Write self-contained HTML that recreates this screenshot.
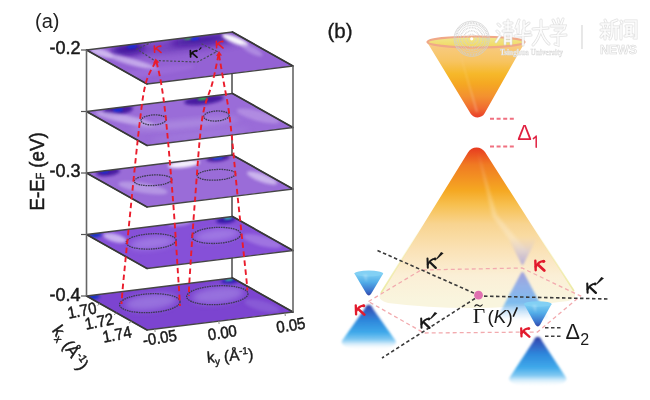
<!DOCTYPE html><html><head><meta charset="utf-8"><style>html,body{margin:0;padding:0;background:#fff;}svg{display:block;filter:blur(0.35px)}</style></head><body>
<svg width="650" height="400" viewBox="0 0 650 400">
<defs><linearGradient id="pg" gradientUnits="objectBoundingBox" x1="0.3" y1="0" x2="0.5" y2="1">
<stop offset="0" stop-color="#8a58d0"/><stop offset="0.25" stop-color="#c9b0ee"/><stop offset="0.45" stop-color="#9a70da"/><stop offset="1" stop-color="#9870dc"/></linearGradient><filter id="bl3" x="-50%" y="-50%" width="200%" height="200%"><feGaussianBlur stdDeviation="3"/></filter><filter id="bl2" x="-50%" y="-50%" width="200%" height="200%"><feGaussianBlur stdDeviation="1.8"/></filter><filter id="bl1" x="-50%" y="-50%" width="200%" height="200%"><feGaussianBlur stdDeviation="1"/></filter><clipPath id="cp0"><polygon points="86.5,50 232.5,32 293.0,66 147.0,84"/></clipPath><clipPath id="cp1"><polygon points="86.5,111.5 232.5,93.5 293.0,127.5 147.0,145.5"/></clipPath><clipPath id="cp2"><polygon points="86.5,173 232.5,155 293.0,189 147.0,207"/></clipPath><clipPath id="cp3"><polygon points="86.5,234.5 232.5,216.5 293.0,250.5 147.0,268.5"/></clipPath><clipPath id="cp4"><polygon points="86.5,296 232.5,278 293.0,312 147.0,330"/></clipPath><linearGradient id="ucone" x1="0" y1="42" x2="0" y2="118" gradientUnits="userSpaceOnUse">
<stop offset="0" stop-color="#f8cc88"/><stop offset="0.25" stop-color="#f7c462"/><stop offset="0.42" stop-color="#f6b82a"/><stop offset="0.55" stop-color="#f5a822"/><stop offset="0.72" stop-color="#f39030"/><stop offset="0.88" stop-color="#f06a30"/><stop offset="1" stop-color="#e83a28"/></linearGradient><linearGradient id="lcone" x1="0" y1="148" x2="0" y2="300" gradientUnits="userSpaceOnUse">
<stop offset="0" stop-color="#e83c20"/><stop offset="0.11" stop-color="#f07a22"/><stop offset="0.28" stop-color="#f5a822"/><stop offset="0.375" stop-color="#f7c050"/><stop offset="0.5" stop-color="#f8d490"/><stop offset="0.67" stop-color="#fae2b6"/><stop offset="0.84" stop-color="#fbefd6"/><stop offset="1" stop-color="#f9f5de"/></linearGradient>
<linearGradient id="lconeS" x1="0" y1="148" x2="0" y2="300" gradientUnits="userSpaceOnUse"><stop offset="0" stop-color="#f0e890" stop-opacity="0"/><stop offset="0.5" stop-color="#f0e890" stop-opacity="0"/><stop offset="1" stop-color="#e8e898" stop-opacity="0.95"/></linearGradient><linearGradient id="rimg" x1="0" y1="0" x2="0" y2="1"><stop offset="0" stop-color="#f0e890"/><stop offset="1" stop-color="#f2d860"/></linearGradient><linearGradient id="mgr" x1="0" y1="0" x2="0" y2="1"><stop offset="0" stop-color="#e8d0c0" stop-opacity="0"/><stop offset="0.5" stop-color="#d0c4d4" stop-opacity="0.6"/><stop offset="1" stop-color="#b0a8d8" stop-opacity="0.95"/></linearGradient><linearGradient id="mbl" x1="0" y1="0" x2="0" y2="1"><stop offset="0" stop-color="#9898dc"/><stop offset="0.3" stop-color="#88aaea"/><stop offset="0.65" stop-color="#70b6f0"/><stop offset="1" stop-color="#a8d4f4" stop-opacity="0"/></linearGradient><linearGradient id="bup" x1="0" y1="0" x2="0" y2="1"><stop offset="0" stop-color="#80d0f4"/><stop offset="0.4" stop-color="#52ade8"/><stop offset="0.8" stop-color="#3a72cc"/><stop offset="1" stop-color="#3448a8"/></linearGradient><linearGradient id="bdn" x1="0" y1="0" x2="0" y2="1"><stop offset="0" stop-color="#2c3c9c"/><stop offset="0.1" stop-color="#3456bc"/><stop offset="0.35" stop-color="#2e88dc"/><stop offset="0.62" stop-color="#40aaea"/><stop offset="0.78" stop-color="#80c8f2" stop-opacity="0.95"/><stop offset="1" stop-color="#ffffff" stop-opacity="0"/></linearGradient><filter id="bl05" x="-20%" y="-20%" width="140%" height="140%"><feGaussianBlur stdDeviation="0.8"/></filter></defs>
<rect width="650" height="400" fill="#fff"/>
<line x1="232" y1="32" x2="232" y2="278" stroke="#555" stroke-width="1.6"/>
<g clip-path="url(#cp0)"><polygon points="86.5,50 232.5,32 293.0,66 147.0,84" fill="#9462d4"/>
<ellipse cx="190" cy="44" rx="70" ry="7" transform="rotate(-7 190 44)" fill="#6a38b8" opacity="0.7" filter="url(#bl3)"/>
<ellipse cx="102" cy="53" rx="12" ry="3.5" transform="rotate(15 102 53)" fill="#d4c0f2" opacity="0.9" filter="url(#bl2)"/>
<ellipse cx="128" cy="49" rx="17" ry="5.5" transform="rotate(-7 128 49)" fill="#3a0c98" opacity="0.9" filter="url(#bl3)"/>
<ellipse cx="132" cy="46.5" rx="5" ry="1.8" transform="rotate(-7 132 46.5)" fill="#1030e0" opacity="0.9" filter="url(#bl1)"/>
<ellipse cx="132" cy="62" rx="28" ry="3.2" transform="rotate(16 132 62)" fill="#d4c0f2" opacity="0.75" filter="url(#bl2)"/>
<ellipse cx="200" cy="40" rx="30" ry="4" transform="rotate(-7 200 40)" fill="#3a0c98" opacity="0.85" filter="url(#bl3)"/>
<ellipse cx="188" cy="38" rx="4" ry="1.5" transform="rotate(-7 188 38)" fill="#30c040" opacity="0.9" filter="url(#bl1)"/>
<ellipse cx="195" cy="38.5" rx="4" ry="1.5" transform="rotate(-7 195 38.5)" fill="#1030f0" opacity="0.9" filter="url(#bl1)"/>
<ellipse cx="235" cy="40" rx="14" ry="3.5" transform="rotate(22 235 40)" fill="#ffffff" opacity="0.95" filter="url(#bl2)"/>
<ellipse cx="252" cy="50" rx="12" ry="3.5" transform="rotate(28 252 50)" fill="#c0a4ea" opacity="0.6" filter="url(#bl2)"/>
<ellipse cx="150" cy="72" rx="45" ry="4" transform="rotate(-7 150 72)" fill="#a070dc" opacity="0.6" filter="url(#bl2)"/>
</g>
<polygon points="86.5,50 232.5,32 293.0,66 147.0,84" fill="none" stroke="#454545" stroke-width="1.3" stroke-linejoin="round"/>
<line x1="232.5" y1="32" x2="293.0" y2="66" stroke="#383838" stroke-width="1.7" stroke-linecap="round"/>
<line x1="86.5" y1="50" x2="147.0" y2="84" stroke="#383838" stroke-width="1.6" stroke-linecap="round"/>
<line x1="81" y1="50" x2="86.5" y2="50" stroke="#555" stroke-width="1.2"/>
<g clip-path="url(#cp1)"><polygon points="86.5,111.5 232.5,93.5 293.0,127.5 147.0,145.5" fill="#9a6cd8"/>
<ellipse cx="118" cy="110" rx="15" ry="5" transform="rotate(-7 118 110)" fill="#3a0c98" opacity="0.85" filter="url(#bl2)"/>
<ellipse cx="118" cy="110" rx="5" ry="1.8" transform="rotate(-7 118 110)" fill="#1030e0" opacity="0.9" filter="url(#bl1)"/>
<ellipse cx="125" cy="119" rx="30" ry="4" transform="rotate(12 125 119)" fill="#cdb8ee" opacity="0.75" filter="url(#bl2)"/>
<ellipse cx="204" cy="100" rx="20" ry="4.5" transform="rotate(-7 204 100)" fill="#3a0c98" opacity="0.85" filter="url(#bl2)"/>
<ellipse cx="202.5" cy="98.3" rx="5" ry="1.8" transform="rotate(-7 202.5 98.3)" fill="#30d040" opacity="0.9" filter="url(#bl1)"/>
<ellipse cx="258" cy="116" rx="22" ry="5" transform="rotate(15 258 116)" fill="#c0a0e8" opacity="0.6" filter="url(#bl2)"/>
<ellipse cx="185" cy="124" rx="55" ry="4" transform="rotate(-5 185 124)" fill="#c4b0ec" opacity="0.45" filter="url(#bl3)"/>
<ellipse cx="200" cy="135" rx="50" ry="4" transform="rotate(-7 200 135)" fill="#a886e0" opacity="0.5" filter="url(#bl3)"/>
</g>
<polygon points="86.5,111.5 232.5,93.5 293.0,127.5 147.0,145.5" fill="none" stroke="#454545" stroke-width="1.3" stroke-linejoin="round"/>
<line x1="232.5" y1="93.5" x2="293.0" y2="127.5" stroke="#383838" stroke-width="1.7" stroke-linecap="round"/>
<line x1="86.5" y1="111.5" x2="147.0" y2="145.5" stroke="#383838" stroke-width="1.6" stroke-linecap="round"/>
<line x1="81" y1="111.5" x2="86.5" y2="111.5" stroke="#555" stroke-width="1.2"/>
<g clip-path="url(#cp2)"><polygon points="86.5,173 232.5,155 293.0,189 147.0,207" fill="#9a6cd8"/>
<ellipse cx="184" cy="164" rx="16" ry="3.5" transform="rotate(-7 184 164)" fill="#ffffff" opacity="0.9" filter="url(#bl2)"/>
<ellipse cx="262" cy="178" rx="16" ry="4" transform="rotate(20 262 178)" fill="#e0d4f6" opacity="0.7" filter="url(#bl2)"/>
<ellipse cx="108" cy="172" rx="12" ry="4" transform="rotate(-7 108 172)" fill="#3a0c98" opacity="0.85" filter="url(#bl2)"/>
<ellipse cx="105" cy="171.5" rx="4" ry="1.6" transform="rotate(-7 105 171.5)" fill="#1030e0" opacity="0.9" filter="url(#bl1)"/>
<ellipse cx="218" cy="158" rx="12" ry="3.5" transform="rotate(-7 218 158)" fill="#3a0c98" opacity="0.85" filter="url(#bl2)"/>
<ellipse cx="218" cy="157.5" rx="5" ry="1.5" transform="rotate(-7 218 157.5)" fill="#1060f0" opacity="0.9" filter="url(#bl1)"/>
<ellipse cx="143" cy="188" rx="25" ry="5" transform="rotate(10 143 188)" fill="#d0c0f0" opacity="0.5" filter="url(#bl2)"/>
</g>
<polygon points="86.5,173 232.5,155 293.0,189 147.0,207" fill="none" stroke="#454545" stroke-width="1.3" stroke-linejoin="round"/>
<line x1="232.5" y1="155" x2="293.0" y2="189" stroke="#383838" stroke-width="1.7" stroke-linecap="round"/>
<line x1="86.5" y1="173" x2="147.0" y2="207" stroke="#383838" stroke-width="1.6" stroke-linecap="round"/>
<line x1="81" y1="173" x2="86.5" y2="173" stroke="#555" stroke-width="1.2"/>
<g clip-path="url(#cp3)"><polygon points="86.5,234.5 232.5,216.5 293.0,250.5 147.0,268.5" fill="#8650d8"/>
<ellipse cx="95" cy="235" rx="7" ry="3" transform="rotate(-7 95 235)" fill="#1030c0" opacity="0.9" filter="url(#bl2)"/>
<ellipse cx="226" cy="220" rx="10" ry="3.5" transform="rotate(-7 226 220)" fill="#2a0ca0" opacity="0.85" filter="url(#bl2)"/>
<ellipse cx="228" cy="218" rx="4" ry="1.5" transform="rotate(-7 228 218)" fill="#30d0b0" opacity="0.9" filter="url(#bl1)"/>
<ellipse cx="152" cy="243" rx="22" ry="6" transform="rotate(-7 152 243)" fill="#aa8ae8" opacity="0.7" filter="url(#bl3)"/>
<ellipse cx="217" cy="235" rx="22" ry="6" transform="rotate(-7 217 235)" fill="#aa8ae8" opacity="0.7" filter="url(#bl3)"/>
<ellipse cx="115" cy="238" rx="12" ry="4" transform="rotate(15 115 238)" fill="#d8c8f4" opacity="0.8" filter="url(#bl2)"/>
<ellipse cx="180" cy="223" rx="12" ry="3" transform="rotate(-7 180 223)" fill="#d0c0f0" opacity="0.5" filter="url(#bl2)"/>
<ellipse cx="262" cy="241" rx="20" ry="5" transform="rotate(15 262 241)" fill="#b898ea" opacity="0.5" filter="url(#bl2)"/>
</g>
<polygon points="86.5,234.5 232.5,216.5 293.0,250.5 147.0,268.5" fill="none" stroke="#454545" stroke-width="1.3" stroke-linejoin="round"/>
<line x1="232.5" y1="216.5" x2="293.0" y2="250.5" stroke="#383838" stroke-width="1.7" stroke-linecap="round"/>
<line x1="86.5" y1="234.5" x2="147.0" y2="268.5" stroke="#383838" stroke-width="1.6" stroke-linecap="round"/>
<line x1="81" y1="234.5" x2="86.5" y2="234.5" stroke="#555" stroke-width="1.2"/>
<g clip-path="url(#cp4)"><polygon points="86.5,296 232.5,278 293.0,312 147.0,330" fill="#7c44d0"/>
<ellipse cx="93" cy="297" rx="7" ry="3" transform="rotate(-7 93 297)" fill="#1030c0" opacity="0.9" filter="url(#bl2)"/>
<ellipse cx="230" cy="281" rx="9" ry="3" transform="rotate(-7 230 281)" fill="#2010b0" opacity="0.85" filter="url(#bl2)"/>
<ellipse cx="229" cy="279.5" rx="4" ry="1.5" transform="rotate(-7 229 279.5)" fill="#30d0a0" opacity="0.9" filter="url(#bl1)"/>
<ellipse cx="151" cy="302" rx="26" ry="8" transform="rotate(-7 151 302)" fill="#a080e2" opacity="0.75" filter="url(#bl3)"/>
<ellipse cx="218" cy="295" rx="26" ry="8" transform="rotate(-7 218 295)" fill="#a080e2" opacity="0.75" filter="url(#bl3)"/>
<ellipse cx="262" cy="306" rx="18" ry="5" transform="rotate(15 262 306)" fill="#9470dc" opacity="0.5" filter="url(#bl2)"/>
</g>
<polygon points="86.5,296 232.5,278 293.0,312 147.0,330" fill="none" stroke="#454545" stroke-width="1.3" stroke-linejoin="round"/>
<line x1="232.5" y1="278" x2="293.0" y2="312" stroke="#383838" stroke-width="1.7" stroke-linecap="round"/>
<line x1="86.5" y1="296" x2="147.0" y2="330" stroke="#383838" stroke-width="1.6" stroke-linecap="round"/>
<line x1="81" y1="296" x2="86.5" y2="296" stroke="#555" stroke-width="1.2"/>
<line x1="86.5" y1="50" x2="86.5" y2="296" stroke="#666" stroke-width="1.6"/>
<line x1="154.8" y1="329" x2="155.10000000000002" y2="332" stroke="#888" stroke-width="1"/>
<line x1="218.8" y1="321" x2="219.10000000000002" y2="324" stroke="#888" stroke-width="1"/>
<line x1="285" y1="313" x2="285.3" y2="316" stroke="#888" stroke-width="1"/>
<line x1="100" y1="303.6" x2="97.5" y2="305.40000000000003" stroke="#888" stroke-width="1"/>
<line x1="116.5" y1="312.9" x2="114.0" y2="314.7" stroke="#888" stroke-width="1"/>
<line x1="131.5" y1="321.3" x2="129.0" y2="323.1" stroke="#888" stroke-width="1"/>
<line x1="293" y1="66" x2="293" y2="312" stroke="#666" stroke-width="1.6"/>
<ellipse cx="153.7" cy="119.9" rx="12.7" ry="5" transform="rotate(-3 153.7 119.9)" fill="none" stroke="#3c3a50" stroke-width="1.3" stroke-dasharray="1.6 0.8"/>
<ellipse cx="216.4" cy="116" rx="12.7" ry="5" transform="rotate(-3 216.4 116)" fill="none" stroke="#3c3a50" stroke-width="1.3" stroke-dasharray="1.6 0.8"/>
<ellipse cx="153.1" cy="180.3" rx="18.9" ry="5.3" transform="rotate(-3 153.1 180.3)" fill="none" stroke="#3c3a50" stroke-width="1.3" stroke-dasharray="1.6 0.8"/>
<ellipse cx="216.4" cy="174.8" rx="19.2" ry="5.3" transform="rotate(-3 216.4 174.8)" fill="none" stroke="#3c3a50" stroke-width="1.3" stroke-dasharray="1.6 0.8"/>
<ellipse cx="151.1" cy="241.4" rx="25" ry="7.6" transform="rotate(-3 151.1 241.4)" fill="none" stroke="#3c3a50" stroke-width="1.3" stroke-dasharray="1.6 0.8"/>
<ellipse cx="216.3" cy="235.4" rx="24.6" ry="8" transform="rotate(-3 216.3 235.4)" fill="none" stroke="#3c3a50" stroke-width="1.3" stroke-dasharray="1.6 0.8"/>
<ellipse cx="149.8" cy="303.2" rx="30.3" ry="9.4" transform="rotate(-3 149.8 303.2)" fill="none" stroke="#3c3a50" stroke-width="1.3" stroke-dasharray="1.6 0.8"/>
<ellipse cx="217.3" cy="295.2" rx="30.7" ry="9.4" transform="rotate(-3 217.3 295.2)" fill="none" stroke="#3c3a50" stroke-width="1.3" stroke-dasharray="1.6 0.8"/>
<polyline points="152,42 137,49.2 154.5,60.5 197.5,62 217,51.5 200,43" fill="none" stroke="#4a4a5a" stroke-width="1.2" stroke-dasharray="2.2 1.6"/>
<g transform="translate(153 44.8) scale(0.850 0.745)" fill="none" stroke="#ea1c2c" stroke-width="1.8" stroke-linecap="round"><path d="M1.6,1.4 L1.9,10.2"/><path d="M1.9,7 C3.6,3.8 5.8,1.8 8.8,1.8"/><path d="M4.2,5.3 L9.4,10.4" stroke-width="2.07"/><circle cx="8.8" cy="1.9" r="1.26" fill="#ea1c2c" stroke="none"/></g>
<g transform="translate(215 40) scale(0.850 0.773)" fill="none" stroke="#ea1c2c" stroke-width="1.8" stroke-linecap="round"><path d="M1.6,1.4 L1.9,10.2"/><path d="M1.9,7 C3.6,3.8 5.8,1.8 8.8,1.8"/><path d="M4.2,5.3 L9.4,10.4" stroke-width="2.07"/><circle cx="8.8" cy="1.9" r="1.26" fill="#ea1c2c" stroke="none"/></g>
<g transform="translate(189 49.4) scale(0.850 0.755)" fill="none" stroke="#111" stroke-width="2.0" stroke-linecap="round"><path d="M1.6,1.4 L1.9,10.2"/><path d="M1.9,7 C3.6,3.8 5.8,1.8 8.8,1.8"/><path d="M4.2,5.3 L9.4,10.4" stroke-width="2.3"/><circle cx="8.8" cy="1.9" r="1.4" fill="#111" stroke="none"/><polygon points="11.5,0.5 13.5,-2.8 15.2,-2.2 12.3,1.2" fill="#111" stroke="none"/></g>
<path d="M155.5,62 C153.9,65.4 148.6,72.8 146,82.5 C143.4,92.2 142.4,100.4 140,120 C137.6,139.6 134.2,173.3 131.5,200 C128.8,226.7 125.2,262.7 123.5,280 C121.8,297.3 121.8,300.0 121.5,304" fill="none" stroke="#ea1c2c" stroke-width="1.9" stroke-dasharray="5.5 3.5"/>
<path d="M156.5,62 C157.2,65.4 159.4,72.8 161,82.5 C162.6,92.2 164.0,100.4 166,120 C168.0,139.6 170.9,173.3 173,200 C175.1,226.7 177.2,262.3 178.4,280 C179.6,297.7 179.7,301.7 180,306" fill="none" stroke="#ea1c2c" stroke-width="1.9" stroke-dasharray="5.5 3.5"/>
<path d="M218.5,55 C217.5,59.6 215.2,71.7 212.5,82.5 C209.8,93.3 204.9,100.4 202,120 C199.1,139.6 197.1,173.3 195,200 C192.9,226.7 190.5,264.0 189.5,280 C188.5,296.0 189.1,293.3 189,296" fill="none" stroke="#ea1c2c" stroke-width="1.9" stroke-dasharray="5.5 3.5"/>
<path d="M219,55 C219.8,59.6 221.9,71.7 223.75,82.5 C225.6,93.3 227.6,100.4 230,120 C232.4,139.6 235.2,173.3 238,200 C240.8,226.7 245.0,265.0 246.5,280 C248.0,295.0 246.9,288.3 247,290" fill="none" stroke="#ea1c2c" stroke-width="1.9" stroke-dasharray="5.5 3.5"/>
<polygon points="155.5,58.5 153,63.5 159.5,62.5" fill="#ea1c2c"/>
<polygon points="219,51 216,56 222,55.5" fill="#ea1c2c"/>
<text x="35" y="28" font-family="Liberation Sans, sans-serif" font-size="20" fill="#222">(a)</text>
<text x="80.6" y="53.8" font-family="Liberation Sans, sans-serif" font-size="18" text-anchor="end" fill="#1a1a1a" stroke="#1a1a1a" stroke-width="0.5">-0.2</text>
<text x="80.6" y="177.3" font-family="Liberation Sans, sans-serif" font-size="18" text-anchor="end" fill="#1a1a1a" stroke="#1a1a1a" stroke-width="0.5">-0.3</text>
<text x="80.6" y="300.8" font-family="Liberation Sans, sans-serif" font-size="18" text-anchor="end" fill="#1a1a1a" stroke="#1a1a1a" stroke-width="0.5">-0.4</text>
<text transform="translate(43.5 210.5) rotate(-90) scale(0.96 1)" font-family="Liberation Sans, sans-serif" font-size="19.5" fill="#1a1a1a" stroke="#1a1a1a" stroke-width="0.5">E-E<tspan font-size="11" dy="0">F</tspan><tspan dy="0"> (eV)</tspan></text>
<text transform="translate(83 316) rotate(-11) scale(1 1.1)" font-family="Liberation Sans, sans-serif" font-size="15" text-anchor="middle" fill="#1a1a1a" stroke="#1a1a1a" stroke-width="0.45">1.70</text>
<text transform="translate(100.2 327) rotate(-11) scale(1 1.1)" font-family="Liberation Sans, sans-serif" font-size="15" text-anchor="middle" fill="#1a1a1a" stroke="#1a1a1a" stroke-width="0.45">1.72</text>
<text transform="translate(118 340) rotate(-11) scale(1 1.1)" font-family="Liberation Sans, sans-serif" font-size="15" text-anchor="middle" fill="#1a1a1a" stroke="#1a1a1a" stroke-width="0.45">1.74</text>
<text transform="translate(160.7 343.3) rotate(-9) scale(1 1.1)" font-family="Liberation Sans, sans-serif" font-size="15" text-anchor="middle" fill="#1a1a1a" stroke="#1a1a1a" stroke-width="0.45">-0.05</text>
<text transform="translate(223.2 338.3) rotate(-9) scale(1 1.1)" font-family="Liberation Sans, sans-serif" font-size="15" text-anchor="middle" fill="#1a1a1a" stroke="#1a1a1a" stroke-width="0.45">0.00</text>
<text transform="translate(291.7 330.8) rotate(-9) scale(1 1.1)" font-family="Liberation Sans, sans-serif" font-size="15" text-anchor="middle" fill="#1a1a1a" stroke="#1a1a1a" stroke-width="0.45">0.05</text>
<text transform="translate(230.5 361) rotate(-4)" font-family="Liberation Sans, sans-serif" font-size="15.5" text-anchor="middle" fill="#1a1a1a" stroke="#1a1a1a" stroke-width="0.4">k<tspan font-size="10" dy="3">y</tspan><tspan dy="-3"> (Å</tspan><tspan font-size="10" dy="-6">-1</tspan><tspan dy="6">)</tspan></text>
<text transform="translate(51.5 330.5) rotate(55) scale(0.97 1)" font-family="Liberation Sans, sans-serif" font-size="17" fill="#1a1a1a" stroke="#1a1a1a" stroke-width="0.45">k<tspan font-size="11" dy="3">x</tspan><tspan dy="-3"> (Å</tspan><tspan font-size="11" dy="-6">-1</tspan><tspan dy="6">)</tspan></text>
<text x="327.5" y="37.5" font-family="Liberation Sans, sans-serif" font-size="20.5" fill="#1a1a1a" stroke="#1a1a1a" stroke-width="0.35">(b)</text>
<path d="M427,42 L470.7,113.7 A8,8 0 0 0 484.5,113.4 L525,42 Z" fill="url(#ucone)"/>
<path d="M459,50 L476,112 L478,112 Z" fill="#fff" opacity="0.25" filter="url(#bl1)"/>
<ellipse cx="476" cy="42" rx="48.5" ry="5.5" fill="url(#rimg)" stroke="#f0a888" stroke-width="2.2"/>
<path d="M381,293 L468.1,152.2 A10,10 0 0 1 485,152.1 L574,291 Q578,298 568,301 Q476,314 388,303 Q376,300 381,293 Z" fill="url(#lcone)"/>
<path d="M381,293 L468.1,152.2 A10,10 0 0 1 485,152.1 L574,291" fill="none" stroke="url(#lconeS)" stroke-width="1.6"/>
<path d="M478,152 L497,215 L528,252 L520,254 L492,216 Z" fill="#fff" opacity="0.22" filter="url(#bl2)"/>
<line x1="490" y1="118.8" x2="515" y2="118.8" stroke="#f07080" stroke-width="2" stroke-dasharray="4 2.6"/>
<line x1="490" y1="146.6" x2="515" y2="146.6" stroke="#f07080" stroke-width="2" stroke-dasharray="4 2.6"/>
<text x="517.3" y="139.8" font-family="Liberation Sans, sans-serif" font-size="22.5" fill="#e02040" textLength="14.5" lengthAdjust="spacingAndGlyphs">Δ</text>
<path d="M536.2,136 L536.2,147.2 M536.2,136.2 L533.4,138.6" stroke="#e02040" stroke-width="1.5" fill="none" stroke-linecap="round"/>
<path d="M498,24 L500,26 M497,31 L499,33 M496,42 L500,36 M504,23 L512,23 M505,27 L511,27 M503,31 L513,31 M508,20 L508,31 M505,34 L505,44 M505,34 L511,34 L511,44 M505,38 L511,38 M505,41 L511,41" fill="none" stroke="#d6d6d6" stroke-width="3" stroke-linecap="round" opacity="0.75"/>
<path d="M498,24 L500,26 M497,31 L499,33 M496,42 L500,36 M504,23 L512,23 M505,27 L511,27 M503,31 L513,31 M508,20 L508,31 M505,34 L505,44 M505,34 L511,34 L511,44 M505,38 L511,38 M505,41 L511,41" fill="none" stroke="#fcfcfc" stroke-width="1.6" stroke-linecap="round"/>
<path d="M519,20 L516,28 M518,25 L518,33 M524,21 L524,31 Q524,33 530,32 M529,23 L524,27 M515,36 L531,35 M523,30 L523,45" fill="none" stroke="#d6d6d6" stroke-width="3" stroke-linecap="round" opacity="0.75"/>
<path d="M519,20 L516,28 M518,25 L518,33 M524,21 L524,31 Q524,33 530,32 M529,23 L524,27 M515,36 L531,35 M523,30 L523,45" fill="none" stroke="#fcfcfc" stroke-width="1.6" stroke-linecap="round"/>
<path d="M533,29 L548,28 M541,20 L541,30 Q538,40 533,45 M541,31 Q544,40 549,44" fill="none" stroke="#d6d6d6" stroke-width="3" stroke-linecap="round" opacity="0.75"/>
<path d="M533,29 L548,28 M541,20 L541,30 Q538,40 533,45 M541,31 Q544,40 549,44" fill="none" stroke="#fcfcfc" stroke-width="1.6" stroke-linecap="round"/>
<path d="M553,20 L555,24 M558,19 L559,23 M563,19 L561,24 M551,26 L565,26 L564,29 M555,30 L562,30 L558,34 M551,36 L566,35 M558,34 L558,45 L555,44" fill="none" stroke="#d6d6d6" stroke-width="3" stroke-linecap="round" opacity="0.75"/>
<path d="M553,20 L555,24 M558,19 L559,23 M563,19 L561,24 M551,26 L565,26 L564,29 M555,30 L562,30 L558,34 M551,36 L566,35 M558,34 L558,45 L555,44" fill="none" stroke="#fcfcfc" stroke-width="1.6" stroke-linecap="round"/>
<path d="M605,20 L606,22 M601,24 L610,24 M603,25 L604,28 M608,25 L607,28 M601,30 L610,30 M605,30 L605,39 M604,33 L601,37 M606,33 L609,36 M617,20 L612,22 L612,30 Q612,36 610,39 M612,27 L619,27 M616,27 L616,39" fill="none" stroke="#d6d6d6" stroke-width="3" stroke-linecap="round" opacity="0.75"/>
<path d="M605,20 L606,22 M601,24 L610,24 M603,25 L604,28 M608,25 L607,28 M601,30 L610,30 M605,30 L605,39 M604,33 L601,37 M606,33 L609,36 M617,20 L612,22 L612,30 Q612,36 610,39 M612,27 L619,27 M616,27 L616,39" fill="none" stroke="#fcfcfc" stroke-width="1.6" stroke-linecap="round"/>
<path d="M621,21 L622,23 M621,25 L621,39 M625,21 L636,21 L636,38 L634,38 M626,26 L632,26 M627,29 L631,29 M627,32 L631,32 M627,26 L627,36 M631,26 L631,36 M625,36 L633,35" fill="none" stroke="#d6d6d6" stroke-width="3" stroke-linecap="round" opacity="0.75"/>
<path d="M621,21 L622,23 M621,25 L621,39 M625,21 L636,21 L636,38 L634,38 M626,26 L632,26 M627,29 L631,29 M627,32 L631,32 M627,26 L627,36 M631,26 L631,36 M625,36 L633,35" fill="none" stroke="#fcfcfc" stroke-width="1.6" stroke-linecap="round"/>
<g fill="none" stroke="#cfcfcf" opacity="0.85"><circle cx="471.7" cy="38.8" r="17.6" stroke-width="0.9"/><circle cx="471.7" cy="38.8" r="15.8" stroke-width="2.2" stroke-dasharray="0.9 0.7"/><circle cx="471.7" cy="38.8" r="13.6" stroke-width="0.7"/><circle cx="471.7" cy="38.8" r="11.2" stroke-width="1.6" stroke-dasharray="0.8 0.8"/><circle cx="471.7" cy="38.8" r="8" stroke-width="1.6" stroke-dasharray="0.8 0.8"/><circle cx="471.7" cy="38.8" r="4.5" stroke-width="1.4" stroke-dasharray="0.8 0.8"/></g>
<circle cx="471.7" cy="38.8" r="1.6" fill="#ffffff"/>
<text x="500" y="55" font-family="Liberation Serif, serif" font-size="8.5" font-weight="bold" fill="#fafafa" stroke="#d8d8d8" stroke-width="0.45" textLength="63" lengthAdjust="spacingAndGlyphs">Tsinghua University</text>
<line x1="582" y1="25" x2="582" y2="49" stroke="#e2e2e2" stroke-width="1.6"/>
<text x="600" y="53.5" font-family="Liberation Sans, sans-serif" font-size="13" font-weight="bold" fill="#fcfcfc" stroke="#d8d8d8" stroke-width="0.6" textLength="37" lengthAdjust="spacingAndGlyphs">NEWS</text>
<path d="M507,236 L538,236 L523.5,264 Q522.5,266 521.5,264 Z" fill="url(#mgr)" filter="url(#bl05)"/>
<path d="M520.5,274 Q522.5,270 524.5,274 L549,320 L496,320 Z" fill="url(#mbl)" opacity="0.9" filter="url(#bl05)"/>
<polygon points="368.5,301.5 421,270 522,268 580.5,296 537.5,332 424,333" fill="none" stroke="#f2aaae" stroke-width="1.3" stroke-dasharray="4 3"/>
<line x1="377.5" y1="250.5" x2="476" y2="294" stroke="#3a3a3a" stroke-width="1.6" stroke-dasharray="3.5 2.5"/>
<line x1="478" y1="296" x2="609" y2="299" stroke="#3a3a3a" stroke-width="1.6" stroke-dasharray="3.5 2.5"/>
<line x1="475" y1="298.5" x2="382" y2="358" stroke="#3a3a3a" stroke-width="1.6" stroke-dasharray="3.5 2.5"/>
<path d="M354.40000000000003,273.5 L366.3,293.5 Q368.8,297.5 371.3,293.5 L383.2,273.5 Z" fill="url(#bup)"/>
<ellipse cx="368.8" cy="273.5" rx="14.4" ry="2.8800000000000003" fill="#82d0f4"/>
<path d="M364.8,308.5 C366.3,303.5 371.3,303.5 372.8,308.5 L395.8,341 Q397.8,349 368.8,350 Q339.8,349 341.8,341 Z" fill="url(#bdn)" filter="url(#bl05)"/>
<path d="M363.04,274.5 L366.64,282.5 L367.36,274.5 Z" fill="#fff" opacity="0.25" filter="url(#bl05)"/>
<path d="M524.0,304 L535.3,324.5 Q537.8,328.5 540.3,324.5 L551.5999999999999,304 Z" fill="url(#bup)"/>
<ellipse cx="537.8" cy="304" rx="13.8" ry="2.7600000000000002" fill="#82d0f4"/>
<path d="M533.8,340.5 C535.3,335.5 540.3,335.5 541.8,340.5 L566.3,378 Q568.3,386 537.8,387 Q507.29999999999995,386 509.29999999999995,378 Z" fill="url(#bdn)" filter="url(#bl05)"/>
<path d="M532.28,305 L535.7299999999999,313 L536.42,305 Z" fill="#fff" opacity="0.25" filter="url(#bl05)"/>
<circle cx="478.5" cy="295.2" r="4.4" fill="#e070b0"/>
<g transform="translate(354 303.8) scale(1.100 1.045)" fill="none" stroke="#e21a2c" stroke-width="2.1" stroke-linecap="round"><path d="M1.6,1.4 L1.9,10.2"/><path d="M1.9,7 C3.6,3.8 5.8,1.8 8.8,1.8"/><path d="M4.2,5.3 L9.4,10.4" stroke-width="2.415"/><circle cx="8.8" cy="1.9" r="1.47" fill="#e21a2c" stroke="none"/></g>
<g transform="translate(533.5 259.2) scale(1.150 1.091)" fill="none" stroke="#e21a2c" stroke-width="2.1" stroke-linecap="round"><path d="M1.6,1.4 L1.9,10.2"/><path d="M1.9,7 C3.6,3.8 5.8,1.8 8.8,1.8"/><path d="M4.2,5.3 L9.4,10.4" stroke-width="2.415"/><circle cx="8.8" cy="1.9" r="1.47" fill="#e21a2c" stroke="none"/></g>
<g transform="translate(519.5 326.8) scale(1.050 0.955)" fill="none" stroke="#e21a2c" stroke-width="2.1" stroke-linecap="round"><path d="M1.6,1.4 L1.9,10.2"/><path d="M1.9,7 C3.6,3.8 5.8,1.8 8.8,1.8"/><path d="M4.2,5.3 L9.4,10.4" stroke-width="2.415"/><circle cx="8.8" cy="1.9" r="1.47" fill="#e21a2c" stroke="none"/></g>
<g transform="translate(425.8 257) scale(1.060 1.045)" fill="none" stroke="#1a1a1a" stroke-width="1.9" stroke-linecap="round"><path d="M1.6,1.4 L1.9,10.2"/><path d="M1.9,7 C3.6,3.8 5.8,1.8 8.8,1.8"/><path d="M4.2,5.3 L9.4,10.4" stroke-width="2.1849999999999996"/><circle cx="8.8" cy="1.9" r="1.3299999999999998" fill="#1a1a1a" stroke="none"/><polygon points="9.8,1.6 14.4,-4.8 16.8,-3.6 10.6,2.1" fill="#1a1a1a" stroke="none"/></g>
<g transform="translate(419.5 317) scale(1.060 1.045)" fill="none" stroke="#1a1a1a" stroke-width="1.9" stroke-linecap="round"><path d="M1.6,1.4 L1.9,10.2"/><path d="M1.9,7 C3.6,3.8 5.8,1.8 8.8,1.8"/><path d="M4.2,5.3 L9.4,10.4" stroke-width="2.1849999999999996"/><circle cx="8.8" cy="1.9" r="1.3299999999999998" fill="#1a1a1a" stroke="none"/><polygon points="9.8,1.6 14.4,-4.8 16.8,-3.6 10.6,2.1" fill="#1a1a1a" stroke="none"/></g>
<g transform="translate(585.5 282) scale(1.100 1.045)" fill="none" stroke="#1a1a1a" stroke-width="1.9" stroke-linecap="round"><path d="M1.6,1.4 L1.9,10.2"/><path d="M1.9,7 C3.6,3.8 5.8,1.8 8.8,1.8"/><path d="M4.2,5.3 L9.4,10.4" stroke-width="2.1849999999999996"/><circle cx="8.8" cy="1.9" r="1.3299999999999998" fill="#1a1a1a" stroke="none"/><polygon points="9.8,1.6 14.4,-4.8 16.8,-3.6 10.6,2.1" fill="#1a1a1a" stroke="none"/></g>
<text x="472.8" y="323.3" font-family="Liberation Serif, serif" font-size="21.5" fill="#1a1a1a">Γ</text>
<path d="M474.5,306.5 Q476.5,303.8 478.5,305.5 Q480.5,307.2 482.5,304.5" fill="none" stroke="#1a1a1a" stroke-width="1.1"/>
<text x="487.5" y="323" font-family="Liberation Sans, sans-serif" font-size="19" fill="#1a1a1a">(<tspan font-style="italic">K</tspan>)</text>
<path d="M517,308 L513.5,316" stroke="#1a1a1a" stroke-width="1.7" stroke-linecap="round"/>
<line x1="545" y1="327.8" x2="562" y2="327.8" stroke="#404040" stroke-width="1.5" stroke-dasharray="3.5 2.5"/>
<line x1="545" y1="336.3" x2="562" y2="336.3" stroke="#404040" stroke-width="1.5" stroke-dasharray="3.5 2.5"/>
<text x="565.5" y="338.5" font-family="Liberation Sans, sans-serif" font-size="22" fill="#1a1a1a" textLength="14.5" lengthAdjust="spacingAndGlyphs">Δ</text>
<text x="580.3" y="345" font-family="Liberation Sans, sans-serif" font-size="16" fill="#1a1a1a">2</text>
</svg></body></html>
